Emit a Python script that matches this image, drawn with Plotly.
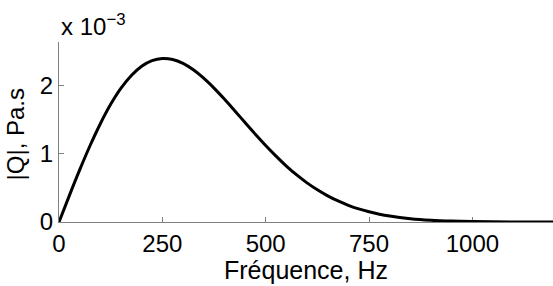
import numpy as np
import plotly.graph_objects as go

# Frequency (Hz)
freq = [0, 25, 50, 75, 100, 125, 150, 175, 200, 225, 250, 275, 300, 325, 350,
        375, 400, 425, 450, 475, 500, 525, 550, 575, 600, 625, 650, 675, 700,
        725, 750, 775, 800, 850, 900, 950, 1000, 1050, 1100, 1150, 1200]
# |Q| in units of 1e-3 Pa.s
q_e3 = [0.0, 0.386, 0.761, 1.114, 1.436, 1.719, 1.955, 2.141, 2.276, 2.358,
        2.389, 2.374, 2.317, 2.224, 2.101, 1.956, 1.796, 1.626, 1.453, 1.283,
        1.118, 0.962, 0.818, 0.688, 0.572, 0.470, 0.382, 0.307, 0.244, 0.191,
        0.149, 0.114, 0.087, 0.049, 0.026, 0.0135, 0.0067, 0.003, 0.0013,
        0.0005, 0.0002]
x_ticks = [0, 250, 500, 750, 1000]
y_ticks = [0, 1, 2]

q = np.array(q_e3) * 1e-3

FONT = "Liberation Sans, Arial, sans-serif"
AX = "#808080"

fig = go.Figure()
fig.add_trace(go.Scatter(x=freq, y=q, mode="lines",
                         line=dict(color="black", width=3, shape="spline"),
                         showlegend=False, hoverinfo="skip"))

fig.update_layout(
    width=553, height=286,
    margin=dict(l=59, r=0, t=42, b=64),
    paper_bgcolor="white", plot_bgcolor="white",
    font=dict(family=FONT, size=24, color="black"),
    xaxis=dict(range=[0, 1195], tickvals=x_ticks, ticktext=[str(v) for v in x_ticks],
               showline=True, linecolor=AX, linewidth=1, mirror=False,
               ticks="inside", ticklen=5, tickcolor=AX, tickwidth=1,
               showgrid=False, zeroline=False, layer="below traces",
               ticklabelstandoff=0, automargin=False),
    yaxis=dict(range=[0, 2.63e-3], tickvals=[v * 1e-3 for v in y_ticks],
               ticktext=[str(v) for v in y_ticks],
               showline=True, linecolor=AX, linewidth=1, mirror=False,
               ticks="inside", ticklen=5, tickcolor=AX, tickwidth=1,
               showgrid=False, zeroline=False, layer="below traces",
               ticklabelstandoff=0, automargin=False),
)
fig.add_annotation(text="Fréquence, Hz", xref="paper", yref="paper",
                   x=0.5, y=-0.182, xanchor="center", yanchor="top",
                   showarrow=False, borderpad=0, font=dict(size=25, family=FONT))
fig.add_annotation(text="|Q|, Pa.s", xref="paper", yref="paper",
                   x=-0.088, y=0.489, xanchor="center", yanchor="middle",
                   textangle=-90, showarrow=False, borderpad=0,
                   font=dict(size=24, family=FONT))
fig.add_annotation(text="x 10<sup>−3</sup>", xref="paper", yref="paper",
                   x=0.0, y=1.0, xanchor="left", yanchor="bottom",
                   showarrow=False, font=dict(size=24, family=FONT))

fig.write_html("out.html", config={"displayModeBar": False},
               post_script="document.body.style.margin='0';document.body.style.padding='0';")
